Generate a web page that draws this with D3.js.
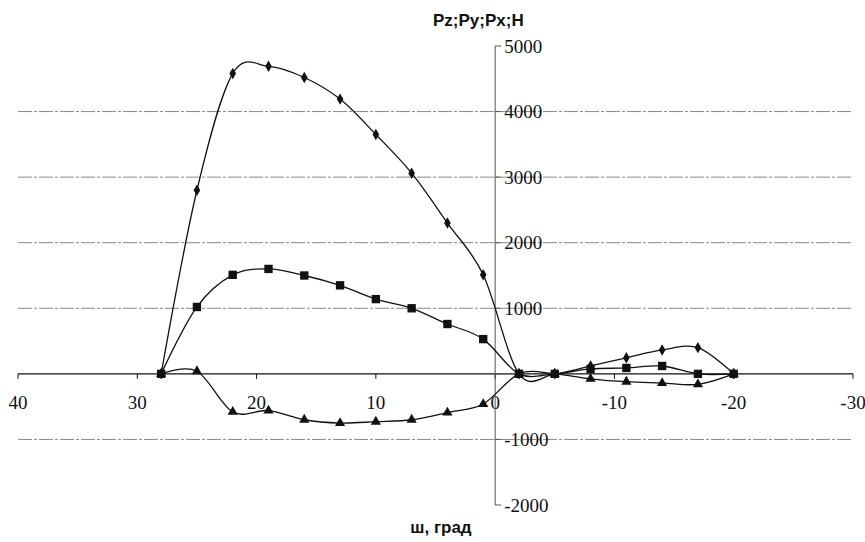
<!DOCTYPE html>
<html>
<head>
<meta charset="utf-8">
<script src="https://cdn.jsdelivr.net/npm/d3@7"></script>
<style>
  body { margin: 0; background: #fff; }
  svg { display: block; }
  .tick-label { font-family: "Liberation Serif", "Times New Roman", serif; font-size: 19px; fill: #111; }
  .axis-title { font-family: "Liberation Sans", Arial, sans-serif; font-size: 17px; font-weight: bold; fill: #111; }
</style>
</head>
<body>
<svg id="chart"></svg>
<script>
// angle, deg (x values shared by all series)
const angles = [28, 25, 22, 19, 16, 13, 10, 7, 4, 1, -2, -5, -8, -11, -14, -17, -20];
// Pz (diamonds)
const pz = [0, 2800, 4580, 4690, 4520, 4190, 3650, 3060, 2300, 1510, 0, 0, 120, 245, 365, 400, 0];
// Py (squares)
const py = [0, 1020, 1510, 1600, 1500, 1350, 1140, 1000, 760, 530, 0, 0, 75, 90, 120, 0, 0];
// Px (triangles)
const px = [0, 40, -580, -560, -700, -750, -730, -700, -590, -460, 0, 0, -75, -120, -140, -160, 0];

const xTicks = [40, 30, 20, 10, 0, -10, -20, -30];
const yTicks = [-2000, -1000, 0, 1000, 2000, 3000, 4000, 5000];
const gridValues = [-1000, 1000, 2000, 3000, 4000];

const width = 865, height = 542;

const svg = d3.select('#chart')
  .attr('width', width)
  .attr('height', height);

const x = d3.scaleLinear().domain([40, -30]).range([18, 853]);
const y = d3.scaleLinear().domain([-2000, 5000]).range([505, 46]);

// horizontal grid lines
svg.append('g')
  .selectAll('line')
  .data(gridValues)
  .enter().append('line')
  .attr('x1', x(40))
  .attr('x2', x(-30))
  .attr('y1', d => y(d))
  .attr('y2', d => y(d))
  .attr('stroke', '#888')
  .attr('stroke-width', 1)
  .attr('stroke-dasharray', '14 2 3 2');

// x axis at value 0
const xAxis = svg.append('g');
xAxis.append('line')
  .attr('x1', x(40)).attr('x2', x(-30))
  .attr('y1', y(0)).attr('y2', y(0))
  .attr('stroke', '#111')
  .attr('stroke-width', 1.2);
xAxis.selectAll('line.tk')
  .data(xTicks)
  .enter().append('line')
  .attr('class', 'tk')
  .attr('x1', d => x(d)).attr('x2', d => x(d))
  .attr('y1', y(0)).attr('y2', y(0) + 5)
  .attr('stroke', '#111');
xAxis.selectAll('text')
  .data(xTicks)
  .enter().append('text')
  .attr('class', 'tick-label')
  .attr('text-anchor', 'middle')
  .attr('x', d => x(d))
  .attr('y', 409)
  .text(d => d);

// y axis at angle 0
const yAxis = svg.append('g');
yAxis.append('line')
  .attr('x1', x(0)).attr('x2', x(0))
  .attr('y1', y(5000)).attr('y2', y(-2000))
  .attr('stroke', '#555')
  .attr('stroke-width', 1);
yAxis.selectAll('line.tk')
  .data(yTicks)
  .enter().append('line')
  .attr('class', 'tk')
  .attr('x1', x(0)).attr('x2', x(0) + 6)
  .attr('y1', d => y(d)).attr('y2', d => y(d))
  .attr('stroke', '#555');
yAxis.selectAll('text')
  .data(yTicks.filter(d => d !== 0))
  .enter().append('text')
  .attr('class', 'tick-label')
  .attr('x', x(0) + 9)
  .attr('y', d => y(d))
  .attr('dy', '0.35em')
  .text(d => d);

// titles
svg.append('text')
  .attr('class', 'axis-title')
  .attr('x', 433)
  .attr('y', 26)
  .text('Pz;Py;Px;H');

svg.append('text')
  .attr('class', 'axis-title')
  .attr('text-anchor', 'middle')
  .attr('x', 441)
  .attr('y', 533)
  .text('ш, град');

// series
const line = d3.line()
  .x(d => x(d[0]))
  .y(d => y(d[1]))
  .curve(d3.curveCardinal.tension(0));

const series = [
  { values: pz, symbol: d3.symbolDiamond, size: 38 },
  { values: py, symbol: d3.symbolSquare, size: 70 },
  { values: px, symbol: d3.symbolTriangle, size: 45 }
];

series.forEach(s => {
  const pts = angles.map((a, i) => [a, s.values[i]]);
  svg.append('path')
    .datum(pts)
    .attr('d', line)
    .attr('fill', 'none')
    .attr('stroke', '#111')
    .attr('stroke-width', 1.3);

  svg.append('g')
    .selectAll('path')
    .data(pts)
    .enter().append('path')
    .attr('d', d3.symbol().type(s.symbol).size(s.size))
    .attr('transform', d => `translate(${x(d[0])},${y(d[1])})`)
    .attr('fill', '#111');
});
</script>
</body>
</html>
